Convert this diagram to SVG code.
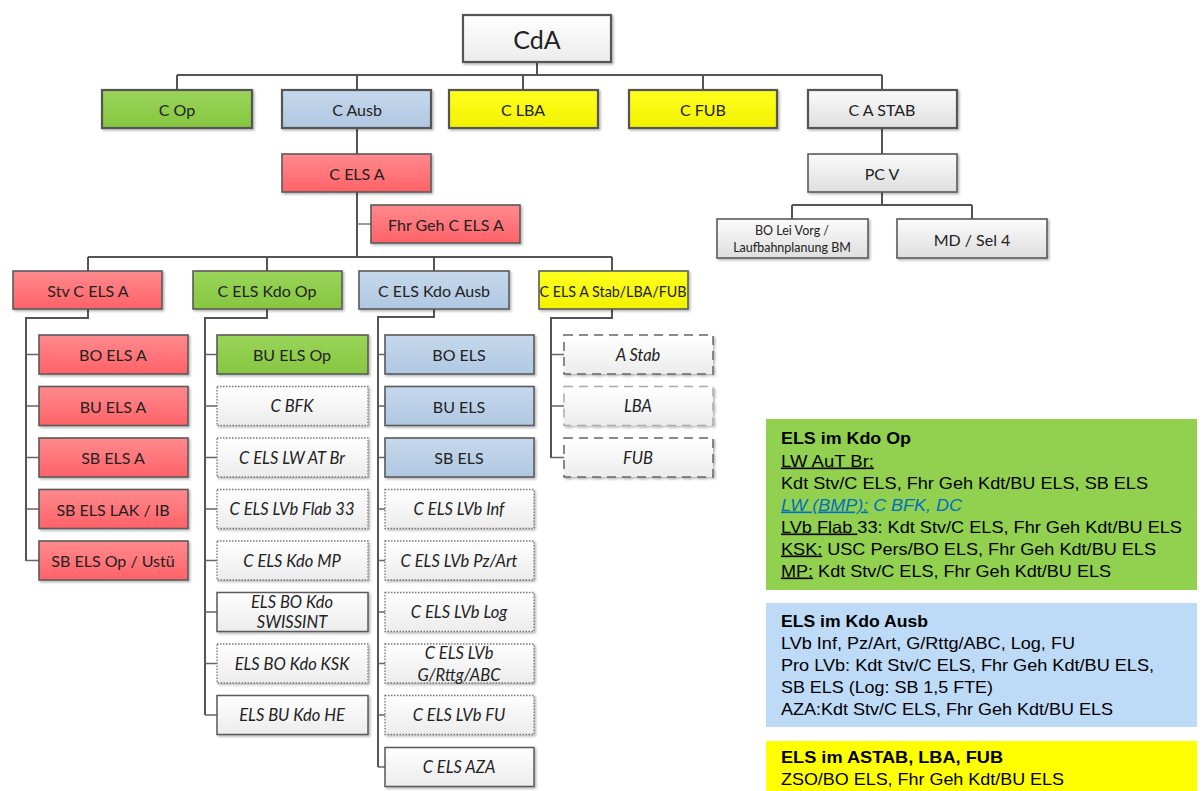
<svg xmlns="http://www.w3.org/2000/svg" width="1203" height="791" viewBox="0 0 1203 791">
<defs>
<linearGradient id="gRed" x1="0" y1="0" x2="0" y2="1"><stop offset="0" stop-color="#ff8a8e"/><stop offset="1" stop-color="#ff6267"/></linearGradient>
<linearGradient id="gGreen" x1="0" y1="0" x2="0" y2="1"><stop offset="0" stop-color="#9ad55a"/><stop offset="1" stop-color="#86c640"/></linearGradient>
<linearGradient id="gBlue" x1="0" y1="0" x2="0" y2="1"><stop offset="0" stop-color="#c6d8ec"/><stop offset="1" stop-color="#b0c8e2"/></linearGradient>
<linearGradient id="gYellow" x1="0" y1="0" x2="0" y2="1"><stop offset="0" stop-color="#ffff20"/><stop offset="1" stop-color="#f2f200"/></linearGradient>
<linearGradient id="gGray" x1="0" y1="0" x2="0" y2="1"><stop offset="0" stop-color="#fbfbfb"/><stop offset="1" stop-color="#dedede"/></linearGradient>
<linearGradient id="gWhite" x1="0" y1="0" x2="0" y2="1"><stop offset="0" stop-color="#ffffff"/><stop offset="1" stop-color="#ececec"/></linearGradient>
<filter id="sh" x="-10%" y="-10%" width="125%" height="140%"><feDropShadow dx="1.5" dy="1.5" stdDeviation="1.2" flood-color="#000" flood-opacity="0.3"/></filter>
</defs>
<style>
.b{stroke:#5a5a5a;stroke-width:1.6;filter:url(#sh)}
.bt{stroke:#555;stroke-width:2.2;filter:url(#sh)}
.red{fill:url(#gRed)}
.green{fill:url(#gGreen)}
.blue{fill:url(#gBlue)}
.yellow{fill:url(#gYellow)}
.gray{fill:url(#gGray)}
.white{fill:url(#gWhite)}
.dot{stroke:#777;stroke-width:1.3;stroke-dasharray:1.5 1.5;filter:url(#sh)}
.sol{stroke:#5a5a5a;stroke-width:1.5;filter:url(#sh)}
.dash{stroke:#666;stroke-width:1.5;stroke-dasharray:9 6;filter:url(#sh)}
.dashl{stroke:#aaa;stroke-width:1.5;stroke-dasharray:9 6;filter:url(#sh)}
.t{font-family:Lato,"Liberation Sans",sans-serif;font-size:16px;fill:#222;text-anchor:middle;dominant-baseline:central}
.i{font-style:italic;font-size:16.5px}
.s{font-size:12.5px}
.big{font-size:25px}
.ln{fill:none;stroke:#555;stroke-width:2}
.st{fill:none;stroke:#666;stroke-width:1.3}
.lg{font-family:"Liberation Sans",Arial,sans-serif;font-size:16.5px;fill:#000}
.bd{font-weight:bold}
.u{text-decoration:underline}
</style>
<g id="connectors">
<path class="ln" d="M537,62V75M177,75H882M177,75V90M357,75V90M523,75V90M703,75V90M882,75V90"/>
<path class="ln" d="M357,128V154M357,192V257M88,257H612M88,257V271M267,257V271M434,257V271M612,257V271"/>
<path class="st" d="M357,224H371"/>
<path class="ln" d="M882,128V154M882,192V205M792,205H972M792,205V219M972,205V219"/>
<path class="ln" d="M88,309V318H26V561"/>
<path class="st" d="M26,354.5H39M26,406H39M26,457.5H39M26,509H39M26,560.5H39"/>
<path class="ln" d="M267,309V318H205V715"/>
<path class="st" d="M205,354.5H217M205,406H217M205,457.5H217M205,509H217M205,560.5H217M205,612H217M205,663.5H217M205,715H217"/>
<path class="ln" d="M434,309V317H378V767"/>
<path class="st" d="M378,354.5H385M378,406H385M378,457.5H385M378,509H385M378,560.5H385M378,612H385M378,663.5H385M378,715H385M378,767H385"/>
<path class="ln" d="M612,309V318H551V458"/>
<path class="st" d="M551,354.5H564M551,406H564M551,457.5H564"/>
</g>
<g id="n-cda"><rect class="bt white" x="463" y="15" width="148" height="47"/><text class="t big" x="537" y="39">CdA</text></g>
<g id="n-cop"><rect class="bt green" x="102" y="90" width="150" height="38"/><text class="t" x="177" y="109">C Op</text></g>
<g id="n-causb"><rect class="bt blue" x="282" y="90" width="149" height="38"/><text class="t" x="357" y="109">C Ausb</text></g>
<g id="n-clba"><rect class="bt yellow" x="449" y="90" width="149" height="38"/><text class="t" x="523" y="109">C LBA</text></g>
<g id="n-cfub"><rect class="bt yellow" x="629" y="90" width="148" height="38"/><text class="t" x="703" y="109">C FUB</text></g>
<g id="n-castab"><rect class="bt gray" x="808" y="90" width="149" height="38"/><text class="t" x="882" y="109">C A STAB</text></g>
<g id="n-pcv"><rect class="b gray" x="808" y="154" width="149" height="38"/><text class="t" x="882" y="173">PC V</text></g>
<g id="n-bolei"><rect class="b gray" x="717" y="219" width="151" height="39"/><text class="t s" x="792" y="230">BO Lei Vorg /</text><text class="t s" x="792" y="247">Laufbahnplanung BM</text></g>
<g id="n-md"><rect class="b gray" x="897" y="219" width="150" height="39"/><text class="t" x="972" y="239">MD / Sel 4</text></g>
<g id="n-celsa"><rect class="b red" x="282" y="154" width="149" height="38"/><text class="t" x="357" y="173">C ELS A</text></g>
<g id="n-fhrgeh"><rect class="b red" x="371" y="205" width="149" height="38"/><text class="t" x="446" y="224">Fhr Geh C ELS A</text></g>
<g id="n-stv"><rect class="b red" x="13" y="271" width="149" height="38"/><text class="t" x="88" y="290">Stv C ELS A</text></g>
<g id="n-kdoop"><rect class="b green" x="193" y="271" width="149" height="38"/><text class="t" x="267" y="290">C ELS Kdo Op</text></g>
<g id="n-kdoausb"><rect class="b blue" x="359" y="271" width="150" height="38"/><text class="t" x="434" y="290">C ELS Kdo Ausb</text></g>
<g id="n-astablbafub"><rect class="b yellow" x="539" y="271" width="149" height="38"/><text class="t" x="613" y="290" textLength="147" lengthAdjust="spacingAndGlyphs">C ELS A Stab/LBA/FUB</text></g>
<g id="n-boelsa"><rect class="b red" x="39" y="335" width="149" height="39"/><text class="t" x="113" y="354.5">BO ELS A</text></g>
<g id="n-buelsa"><rect class="b red" x="39" y="386.5" width="149" height="39"/><text class="t" x="113" y="406">BU ELS A</text></g>
<g id="n-sbelsa"><rect class="b red" x="39" y="438" width="149" height="39"/><text class="t" x="113" y="457.5">SB ELS A</text></g>
<g id="n-sbelslak"><rect class="b red" x="39" y="489.5" width="149" height="39"/><text class="t" x="113" y="509">SB ELS LAK / IB</text></g>
<g id="n-sbelsop"><rect class="b red" x="39" y="541" width="149" height="39"/><text class="t" x="113" y="560.5">SB ELS Op / Ustü</text></g>
<g id="n-buelsop"><rect class="b green" x="217" y="335" width="151" height="39"/><text class="t" x="292" y="354.5">BU ELS Op</text></g>
<g id="n-cbfk"><rect class="dot white" x="217" y="386.5" width="151" height="39"/><text class="t i" x="292" y="406">C BFK</text></g>
<g id="n-lwatbr"><rect class="dot white" x="217" y="438" width="151" height="39"/><text class="t i" x="292" y="457.5">C ELS LW AT Br</text></g>
<g id="n-flab33"><rect class="dot white" x="217" y="489.5" width="151" height="39"/><text class="t i" x="292" y="509">C ELS LVb Flab 33</text></g>
<g id="n-kdomp"><rect class="dot white" x="217" y="541" width="151" height="39"/><text class="t i" x="292" y="560.5">C ELS Kdo MP</text></g>
<g id="n-swissint"><rect class="sol white" x="217" y="592.5" width="151" height="39"/><text class="t i" x="292" y="601.5">ELS BO Kdo</text><text class="t i" x="292" y="622">SWISSINT</text></g>
<g id="n-ksk"><rect class="dot white" x="217" y="644" width="151" height="39"/><text class="t i" x="292" y="663.5">ELS BO Kdo KSK</text></g>
<g id="n-he"><rect class="sol white" x="217" y="695.5" width="151" height="39"/><text class="t i" x="292" y="715">ELS BU Kdo HE</text></g>
<g id="n-boels"><rect class="b blue" x="385" y="335" width="149" height="39"/><text class="t" x="459" y="354.5">BO ELS</text></g>
<g id="n-buels"><rect class="b blue" x="385" y="386.5" width="149" height="39"/><text class="t" x="459" y="406">BU ELS</text></g>
<g id="n-sbels"><rect class="b blue" x="385" y="438" width="149" height="39"/><text class="t" x="459" y="457.5">SB ELS</text></g>
<g id="n-inf"><rect class="dot white" x="385" y="489.5" width="149" height="39"/><text class="t i" x="459" y="509">C ELS LVb Inf</text></g>
<g id="n-pzart"><rect class="dot white" x="385" y="541" width="149" height="39"/><text class="t i" x="459" y="560.5">C ELS LVb Pz/Art</text></g>
<g id="n-log"><rect class="dot white" x="385" y="592.5" width="149" height="39"/><text class="t i" x="459" y="612">C ELS LVb Log</text></g>
<g id="n-grttg"><rect class="dot white" x="385" y="644" width="149" height="39"/><text class="t i" x="459" y="653">C ELS LVb</text><text class="t i" x="459" y="675">G/Rttg/ABC</text></g>
<g id="n-fu"><rect class="dot white" x="385" y="695.5" width="149" height="39"/><text class="t i" x="459" y="715">C ELS LVb FU</text></g>
<g id="n-aza"><rect class="sol white" x="385" y="747.5" width="149" height="39"/><text class="t i" x="459" y="767">C ELS AZA</text></g>
<g id="n-astab"><rect class="dash white" x="564" y="335" width="149" height="39"/><text class="t i" x="638" y="354.5">A Stab</text></g>
<g id="n-lba"><rect class="dashl white" x="564" y="386.5" width="149" height="39"/><text class="t i" x="638" y="406">LBA</text></g>
<g id="n-fub"><rect class="dash white" x="564" y="438" width="149" height="39"/><text class="t i" x="638" y="457.5">FUB</text></g>
<g id="legend-op">
<rect x="766" y="419" width="431" height="171" fill="#92d050"/>
<text class="lg bd" x="781" y="444" textLength="130" lengthAdjust="spacingAndGlyphs">ELS im Kdo Op</text>
<text class="lg" x="781" y="466.5" textLength="93" lengthAdjust="spacingAndGlyphs"><tspan class="u">LW AuT Br:</tspan></text>
<text class="lg" x="781" y="488.5" textLength="367" lengthAdjust="spacingAndGlyphs">Kdt Stv/C ELS, Fhr Geh Kdt/BU ELS, SB ELS</text>
<text class="lg i" x="781" y="510.5" style="fill:#0070c0;font-size:16.5px" textLength="181" lengthAdjust="spacingAndGlyphs"><tspan class="u">LW (BMP):</tspan> C BFK, DC</text>
<text class="lg" x="781" y="532.5" textLength="401" lengthAdjust="spacingAndGlyphs"><tspan class="u">LVb Flab </tspan>33: Kdt Stv/C ELS, Fhr Geh Kdt/BU ELS</text>
<text class="lg" x="781" y="554.5" textLength="375" lengthAdjust="spacingAndGlyphs"><tspan class="u">KSK:</tspan> USC Pers/BO ELS, Fhr Geh Kdt/BU ELS</text>
<text class="lg" x="781" y="576.5" textLength="330" lengthAdjust="spacingAndGlyphs"><tspan class="u">MP:</tspan> Kdt Stv/C ELS, Fhr Geh Kdt/BU ELS</text>
</g>
<g id="legend-ausb">
<rect x="766" y="603" width="431" height="124" fill="#bddaf7"/>
<text class="lg bd" x="781" y="627" textLength="147" lengthAdjust="spacingAndGlyphs">ELS im Kdo Ausb</text>
<text class="lg" x="781" y="649" textLength="294" lengthAdjust="spacingAndGlyphs">LVb Inf, Pz/Art, G/Rttg/ABC, Log, FU</text>
<text class="lg" x="781" y="671" textLength="373" lengthAdjust="spacingAndGlyphs">Pro LVb: Kdt Stv/C ELS, Fhr Geh Kdt/BU ELS,</text>
<text class="lg" x="781" y="693" textLength="212" lengthAdjust="spacingAndGlyphs">SB ELS (Log: SB 1,5 FTE)</text>
<text class="lg" x="781" y="714.5" textLength="332" lengthAdjust="spacingAndGlyphs">AZA:Kdt Stv/C ELS, Fhr Geh Kdt/BU ELS</text>
</g>
<g id="legend-astab">
<rect x="766" y="741" width="431" height="50" fill="#ffff00"/>
<text class="lg bd" x="781" y="763" textLength="222" lengthAdjust="spacingAndGlyphs">ELS im ASTAB, LBA, FUB</text>
<text class="lg" x="781" y="785" textLength="283" lengthAdjust="spacingAndGlyphs">ZSO/BO ELS, Fhr Geh Kdt/BU ELS</text>
</g>
</svg>
